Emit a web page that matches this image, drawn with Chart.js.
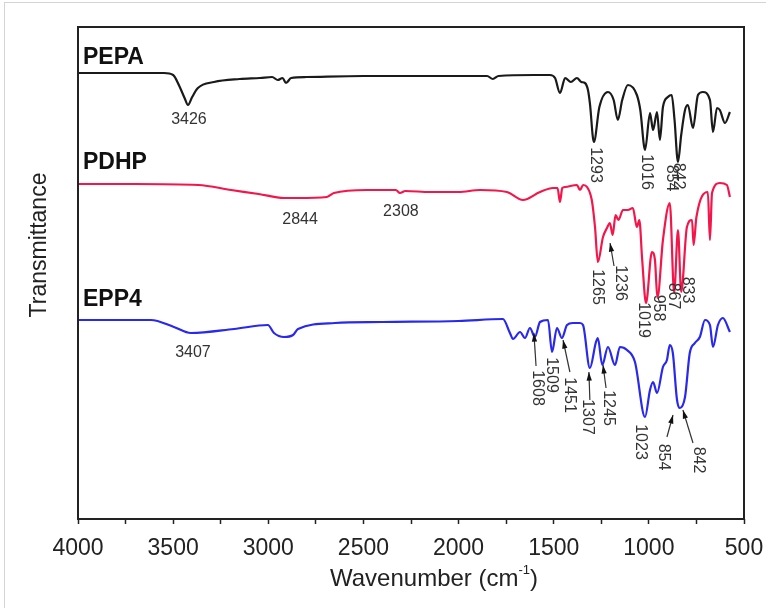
<!DOCTYPE html>
<html>
<head>
<meta charset="utf-8">
<script src="https://cdn.jsdelivr.net/npm/chart.js@4.4.0/dist/chart.umd.min.js"></script>
<style>
  html, body { margin: 0; padding: 0; background: #fff; }
  #wrap { position: relative; width: 766px; height: 608px; }
  #frame { position: absolute; left: 4px; top: 2px; right: 0; bottom: 0; border-top: 1px solid #d4d4d4; border-left: 1px solid #d4d4d4; }
  canvas { position: absolute; left: 0; top: 0; }
</style>
</head>
<body>
<div id="wrap"><div id="frame"></div><canvas id="chart" width="766" height="608"></canvas></div>
<script>
// wavenumbers (cm-1) and offset transmittance (a.u.)
const pepaWn = [4000, 3548, 3500, 3470, 3440, 3422, 3400, 3370, 3285, 3150, 3044, 2980, 2950, 2925, 2907, 2880, 2800, 2500, 2200, 1850, 1820, 1790, 1600, 1520, 1493, 1467, 1440, 1410, 1378, 1355, 1336, 1320, 1310, 1289, 1260, 1215, 1185, 1163, 1140, 1110, 1063, 1045, 1020, 994, 978, 957, 942, 926, 900, 880, 865, 847, 830, 810, 795, 768, 742, 716, 679, 663, 642, 627, 600, 574];
const pepaT = [446, 446, 444, 434, 421, 414, 422, 431, 437, 440, 441, 442, 439, 441, 436, 441, 442, 443, 443, 443, 440, 443, 444, 444, 441, 426, 441, 437, 441, 437, 436, 429, 416, 377, 412, 427, 419, 399, 419, 434, 424, 409, 369, 406, 389, 407, 379, 412, 422, 424, 399, 357, 384, 409, 414, 391, 424, 427, 419, 387, 411, 409, 396, 407];

const pdhpWn = [4000, 3700, 3368, 3195, 3050, 2917, 2844, 2692, 2655, 2482, 2413, 2330, 2308, 2280, 2150, 2000, 1887, 1746, 1662, 1572, 1504, 1480, 1467, 1455, 1440, 1378, 1362, 1345, 1325, 1300, 1283, 1268, 1241, 1220, 1205, 1190, 1175, 1160, 1136, 1110, 1084, 1063, 1050, 1035, 1015, 984, 968, 955, 926, 890, 867, 847, 830, 800, 773, 765, 750, 690, 679, 668, 627, 590, 574];
const pdhpT = [335, 335, 334, 329, 325, 321, 321, 322, 326, 329, 329, 329, 326, 328, 327, 327, 329, 327, 319, 327, 331, 331, 317, 331, 332, 334, 329, 334, 332, 319, 292, 257, 282, 291, 296, 284, 304, 299, 309, 309, 311, 292, 299, 259, 216, 267, 259, 221, 279, 316, 226, 289, 227, 292, 299, 274, 302, 327, 279, 326, 336, 334, 322];

const eppWn = [4000, 3617, 3496, 3407, 3180, 3002, 2970, 2917, 2870, 2844, 2650, 2400, 2000, 1767, 1730, 1714, 1677, 1651, 1625, 1599, 1572, 1530, 1509, 1483, 1457, 1430, 1400, 1362, 1346, 1310, 1278, 1268, 1245, 1215, 1178, 1152, 1115, 1073, 1020, 994, 978, 957, 926, 905, 890, 874, 852, 837, 810, 785, 758, 732, 705, 679, 663, 637, 611, 574];
const eppT = [199, 199, 192, 186, 190, 194, 186, 182, 184, 190, 196, 197, 198, 200, 186, 180, 187, 181, 191, 182, 197, 199, 167, 191, 181, 194, 196, 196, 194, 151, 177, 181, 154, 172, 154, 172, 169, 157, 102, 129, 137, 126, 152, 159, 174, 166, 119, 111, 122, 166, 176, 182, 199, 194, 172, 194, 201, 187];

const seriesNames = ['PEPA', 'PDHP', 'EPP4'];
const xTicks = [4000, 3500, 3000, 2500, 2000, 1500, 1000, 500];

// peak labels: text, wavenumber, value, rotated
const peakLabels = [
  ['3426', 3417, 399, 0], ['1293', 1283, 354, 1], ['1016', 1015, 347, 1],
  ['854', 884, 341, 1], ['842', 847, 343, 1],
  ['2844', 2833, 299, 0], ['2308', 2303, 307, 0], ['1265', 1273, 232, 1],
  ['1236', 1152, 236, 1], ['1019', 1031, 199, 1], ['958', 952, 211, 1],
  ['867', 873, 223, 1], ['833', 795, 229, 1],
  ['3407', 3396, 166, 0], ['1608', 1588, 131, 1], ['1509', 1514, 144, 1],
  ['1451', 1420, 124, 1], ['1307', 1325, 102, 1], ['1245', 1215, 111, 1],
  ['1023', 1047, 77, 1], ['854', 926, 62, 1], ['842', 742, 59, 1]
];
// arrows: tail [wn, value] -> tip [wn, value]
const peakArrows = [
  [[1183, 253], [1204, 276]],
  [[1593, 153], [1604, 186]],
  [[1415, 147], [1451, 179]],
  [[1310, 119], [1315, 147]],
  [[1225, 131], [1241, 154]],
  [[905, 82], [873, 104]],
  [[768, 76], [821, 109]]
];
const nameAnchors = [[3974, 461], [3974, 356], [3974, 219]];

const FONT = "'Liberation Sans', Arial, sans-serif";

function toPoints(wn, t) {
  return wn.map((w, i) => ({ x: w, y: t[i] }));
}

const overlay = {
  id: 'overlay',
  afterDraw(chart) {
    const { ctx, chartArea: a, scales: { x, y } } = chart;
    ctx.save();

    ctx.strokeStyle = '#222';
    ctx.lineWidth = 2;
    ctx.strokeRect(a.left, a.top, a.right - a.left, a.bottom - a.top);

    // series names
    ctx.fillStyle = '#111';
    ctx.font = 'bold 23px ' + FONT;
    ctx.textAlign = 'left';
    ctx.textBaseline = 'middle';
    seriesNames.forEach((n, i) => {
      ctx.fillText(n, x.getPixelForValue(nameAnchors[i][0]), y.getPixelForValue(nameAnchors[i][1]));
    });

    // arrows
    ctx.strokeStyle = '#333';
    ctx.fillStyle = '#111';
    ctx.lineWidth = 1.2;
    peakArrows.forEach(([from, to]) => {
      const x0 = x.getPixelForValue(from[0]), y0 = y.getPixelForValue(from[1]);
      const x1 = x.getPixelForValue(to[0]), y1 = y.getPixelForValue(to[1]);
      const ang = Math.atan2(y1 - y0, x1 - x0);
      ctx.beginPath();
      ctx.moveTo(x0, y0);
      ctx.lineTo(x1, y1);
      ctx.stroke();
      ctx.beginPath();
      ctx.moveTo(x1, y1);
      ctx.lineTo(x1 - 9 * Math.cos(ang - 0.3), y1 - 9 * Math.sin(ang - 0.3));
      ctx.lineTo(x1 - 9 * Math.cos(ang + 0.3), y1 - 9 * Math.sin(ang + 0.3));
      ctx.closePath();
      ctx.fill();
    });

    // peak labels
    ctx.fillStyle = '#333';
    ctx.font = '16px ' + FONT;
    ctx.textAlign = 'center';
    peakLabels.forEach(([txt, w, v, rot]) => {
      ctx.save();
      ctx.translate(x.getPixelForValue(w), y.getPixelForValue(v));
      if (rot) ctx.rotate(Math.PI / 2);
      ctx.fillText(txt, 0, 0);
      ctx.restore();
    });

    // axis titles
    ctx.fillStyle = '#222';
    ctx.font = '23px ' + FONT;
    ctx.save();
    ctx.translate(40, 245);
    ctx.rotate(-Math.PI / 2);
    ctx.fillText('Transmittance', 0, 0);
    ctx.restore();

    const t1 = 'Wavenumber (cm', sup = '-1', t2 = ')';
    ctx.font = '24px ' + FONT;
    const w1 = ctx.measureText(t1).width, w3 = ctx.measureText(t2).width;
    ctx.font = '13px ' + FONT;
    const w2 = ctx.measureText(sup).width;
    let sx = 434 - (w1 + w2 + w3) / 2;
    const ty = 579;
    ctx.textAlign = 'left';
    ctx.font = '24px ' + FONT;
    ctx.fillText(t1, sx, ty);
    ctx.font = '13px ' + FONT;
    ctx.fillText(sup, sx + w1, ty - 9);
    ctx.font = '24px ' + FONT;
    ctx.fillText(t2, sx + w1 + w2, ty);
    ctx.restore();
  }
};

new Chart(document.getElementById('chart').getContext('2d'), {
  type: 'line',
  data: {
    datasets: [
      { label: seriesNames[0], data: toPoints(pepaWn, pepaT), borderColor: '#1a1a1a' },
      { label: seriesNames[1], data: toPoints(pdhpWn, pdhpT), borderColor: '#f4164a' },
      { label: seriesNames[2], data: toPoints(eppWn, eppT), borderColor: '#2828ee' }
    ].map(d => Object.assign(d, { borderWidth: 2.2, pointRadius: 0, cubicInterpolationMode: 'monotone', fill: false }))
  },
  options: {
    responsive: false,
    animation: false,
    devicePixelRatio: 1,
    layout: { padding: { left: 78, right: 22, top: 27, bottom: 0 } },
    plugins: { legend: { display: false }, tooltip: { enabled: false } },
    scales: {
      x: {
        type: 'linear',
        reverse: true,
        min: 500,
        max: 4000,
        border: { display: false },
        grid: { drawOnChartArea: false, tickLength: 5, tickColor: '#222', tickWidth: 1.5 },
        ticks: {
          stepSize: 250,
          autoSkip: false,
          maxRotation: 0,
          padding: 11,
          color: '#222',
          font: { family: FONT, size: 23 },
          callback: v => (xTicks.includes(v) ? String(v) : '')
        },
        afterFit(scale) {
          scale.height = 89;
          scale.paddingLeft = 0;
          scale.paddingRight = 0;
        }
      },
      y: { display: false, min: 0, max: 492 }
    }
  },
  plugins: [overlay]
});
</script>
</body>
</html>
